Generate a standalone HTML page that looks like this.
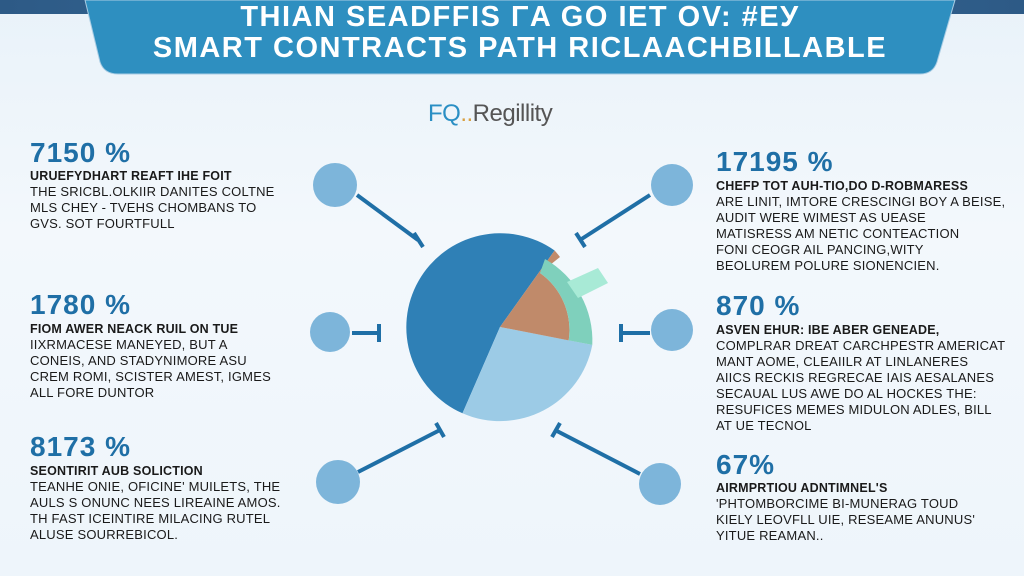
<!DOCTYPE html>
<html><head><meta charset="utf-8"><style>
*{margin:0;padding:0}
body{width:1024px;height:576px;overflow:hidden;background:linear-gradient(180deg,#e9f2f9 0%,#f3f8fc 40%,#eef5fb 100%);font-family:"Liberation Sans",sans-serif;position:relative}
.t{position:absolute;color:#1a1a1a;font-size:13px;line-height:16px;letter-spacing:0.2px}
.t b{display:block;font-size:12.5px}
.p{position:absolute;color:#1f6fa6;font-size:28px;font-weight:bold;letter-spacing:1px}
</style></head><body>
<div style="position:absolute;left:0;top:0;width:1024px;height:14px;background:linear-gradient(90deg,#2d5a86,#3b6d9a 50%,#2d5a86)"></div>
<svg style="position:absolute;left:0;top:0" width="1024" height="576">
<path d="M85,0 L955,0 L937,62 Q933,74 920,74 L118,74 Q104,74 100,62 Z" fill="#2e8fc0" stroke="#a9cde4" stroke-width="1"/>
<g stroke="#1f6fa6" stroke-width="4" fill="none">
<line x1="357" y1="195" x2="418" y2="240"/><line x1="414" y1="233" x2="423" y2="247"/>
<line x1="352" y1="333" x2="378" y2="333"/><line x1="379" y1="324" x2="379" y2="342"/>
<line x1="358" y1="472" x2="440" y2="430"/><line x1="436" y1="423" x2="444" y2="437"/>
<line x1="650" y1="195" x2="580" y2="240"/><line x1="576" y1="233" x2="585" y2="247"/>
<line x1="650" y1="333" x2="622" y2="333"/><line x1="621" y1="324" x2="621" y2="342"/>
<line x1="640" y1="474" x2="555" y2="430"/><line x1="552" y1="437" x2="560" y2="423"/>
</g>
<g fill="#7db5da">
<circle cx="335" cy="185" r="22"/><circle cx="330" cy="332" r="20"/><circle cx="338" cy="482" r="22"/>
<circle cx="672" cy="185" r="21"/><circle cx="672" cy="330" r="21"/><circle cx="660" cy="484" r="21"/>
</g>
<g transform="translate(500,327)">
<path d="M0,0 L-37.5,86.3 A94,94 0 1 1 54.6,-76.5 Z" fill="#2f80b6"/>
<path d="M0,0 L92.3,17.9 A94,94 0 0 1 -37.5,86.3 Z" fill="#9ccbe6"/>
<path d="M0,0 L54.6,-76.5 A94,94 0 0 1 60,-70 L40,-54 A70,70 0 0 1 68.7,13.4 Z" fill="#c08a6a"/>
<path d="M45,-68 A94,94 0 0 1 92.3,17.9 L68.7,13.4 A70,70 0 0 0 40,-54 Z" fill="#7fd0bc"/>
</g>
<path d="M567,282 L598,268 L608,283 L578,298 Z" fill="#a8ead6"/>
</svg>
<div style="position:absolute;left:90px;top:2px;width:860px;text-align:center;color:#fff;font-weight:bold;font-size:29px;line-height:31px;letter-spacing:1.5px">THIAN SEADFFIS ΓA GO IET OV: #ЕУ<br>SMART CONTRACTS PATH RICLAACHBILLABLE</div>
<div style="position:absolute;left:428px;top:100px;font-size:24px;color:#555;letter-spacing:-0.5px"><span style="color:#2a8fc4">FQ</span><span style="color:#d9a040">..</span>Regillity</div>
<div class="p" style="left:30px;top:137px">7150 %</div>
<div class="t" style="left:30px;top:168px"><b>URUEFYDHART REAFT IHE FOIT</b>THE SRICBL.OLKIIR DANITES COLTNE<br>MLS CHEY - TVEHS CHOMBANS TO<br>GVS. SOT FOURTFULL</div>
<div class="p" style="left:30px;top:289px">1780 %</div>
<div class="t" style="left:30px;top:321px"><b>FIOM AWER NEACK RUIL ON TUE</b>IIXRMACESE MANEYED, BUT A<br>CONEIS, AND STADYNIMORE ASU<br>CREM ROMI, SCISTER AMEST, IGMES<br>ALL FORE DUNTOR</div>
<div class="p" style="left:30px;top:431px">8173 %</div>
<div class="t" style="left:30px;top:463px"><b>SEONTIRIT AUB SOLICTION</b>TEANHE ONIE, OFICINE' MUILETS, THE<br>AULS S ONUNC NEES LIREAINE AMOS.<br>TH FAST ICEINTIRE MILACING RUTEL<br>ALUSE SOURREBICOL.</div>
<div class="p" style="left:716px;top:146px">17195 %</div>
<div class="t" style="left:716px;top:178px"><b>CHEFP TOT AUH-TIO,DO D-ROBMARESS</b>ARE LINIT, IMTORE CRESCINGI BOY A BEISE,<br>AUDIT WERE WIMEST AS UEASE<br>MATISRESS AM NETIC CONTEACTION<br>FONI CEOGR AIL PANCING,WITY<br>BEOLUREM POLURE SIONENCIEN.</div>
<div class="p" style="left:716px;top:290px">870 %</div>
<div class="t" style="left:716px;top:322px"><b>ASVEN EHUR: IBE ABER GENEADE,</b>COMPLRAR DREAT CARCHPESTR AMERICAT<br>MANT AOME, CLEAIILR AT LINLANERES<br>AIICS RECKIS REGRECAE IAIS AESALANES<br>SECAUAL LUS AWE DO AL HOCKES THE:<br>RESUFICES MEMES MIDULON ADLES, BILL<br>AT UE TECNOL</div>
<div class="p" style="left:716px;top:449px">67%</div>
<div class="t" style="left:716px;top:480px"><b>AIRMPRTIOU ADNTIMNEL'S</b>'PHTOMBORCIME BI-MUNERAG TOUD<br>KIELY LEOVFLL UIE, RESEAME ANUNUS'<br>YITUE REAMAN..</div>
</body></html>
